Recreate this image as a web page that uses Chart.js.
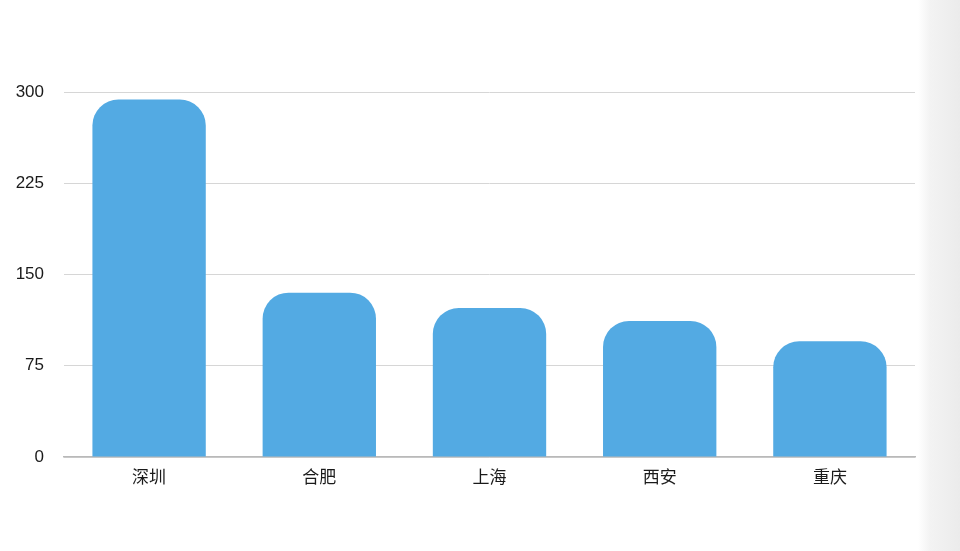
<!DOCTYPE html>
<html>
<head>
<meta charset="utf-8">
<script src="https://cdn.jsdelivr.net/npm/chart.js@4.4.1/dist/chart.umd.min.js"></script>
<style>
  html, body { margin: 0; padding: 0; }
  body {
    width: 960px; height: 551px; overflow: hidden;
    background: linear-gradient(to right, #ffffff 0px, #ffffff 918px, #f3f3f3 930px, #ebebeb 960px);
  }
  #wrap { position: relative; width: 960px; height: 551px; }
</style>
</head>
<body>
<div id="wrap"><canvas id="c" width="960" height="551"></canvas></div>
<script>
const categories = ['深圳', '合肥', '上海', '西安', '重庆'];
const values = [293.8, 135.1, 122.5, 111.8, 95.1];
const yTicks = [0, 75, 150, 225, 300];

const fontFamily = '"Helvetica Neue", Helvetica, Arial, "Liberation Sans", "Noto Sans CJK SC", sans-serif';

new Chart(document.getElementById('c'), {
  type: 'bar',
  data: {
    labels: categories,
    datasets: [{
      label: '',
      data: values,
      backgroundColor: '#53aae3',
      borderWidth: 0,
      borderRadius: 26,
      borderSkipped: 'start',
      barPercentage: 0.666,
      categoryPercentage: 1.0
    }]
  },
  options: {
    responsive: false,
    animation: false,
    devicePixelRatio: 1,
    layout: { padding: { top: 92, right: 45, bottom: 0, left: 0 } },
    plugins: {
      legend: { display: false },
      title: { display: false },
      tooltip: { enabled: false }
    },
    scales: {
      x: {
        grid: { display: false, drawTicks: false },
        border: { display: true, color: '#b9b9b9', width: 1.5 },
        ticks: {
          color: '#1a1a1a',
          padding: 9,
          font: { family: '"Noto Sans CJK SC", sans-serif', size: 17 }
        },
        afterFit: (axis) => { axis.height = 94; }
      },
      y: {
        min: 0,
        max: 300,
        afterBuildTicks: (axis) => { axis.ticks = yTicks.map(v => ({ value: v })); },
        grid: { color: '#d6d6d6', lineWidth: 1, drawTicks: false },
        border: { display: false },
        ticks: {
          color: '#1a1a1a',
          padding: 20,
          font: { family: fontFamily, size: 17 }
        },
        afterFit: (axis) => { axis.width = 64; }
      }
    }
  }
});
</script>
</body>
</html>
